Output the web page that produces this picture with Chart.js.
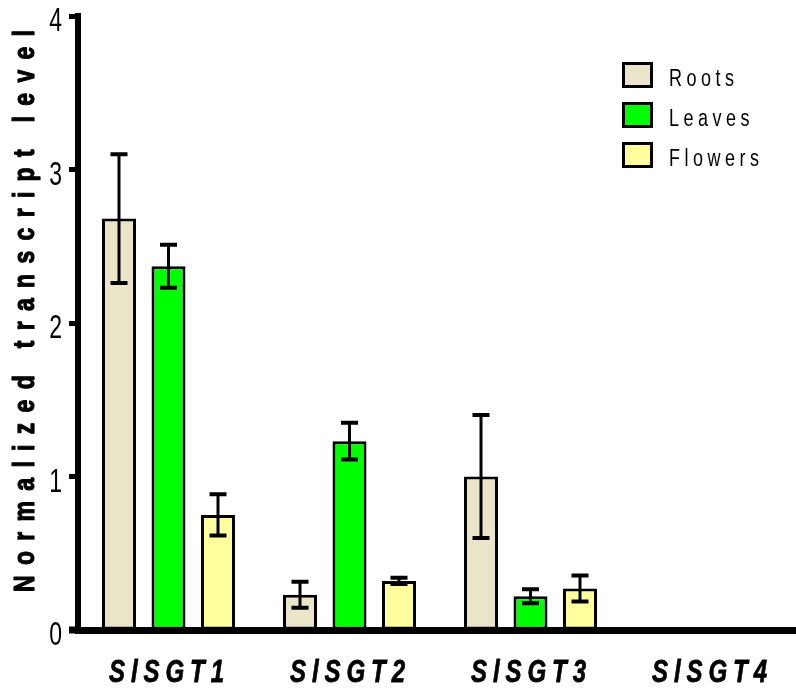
<!DOCTYPE html>
<html>
<head>
<meta charset="utf-8">
<script src="https://cdn.jsdelivr.net/npm/chart.js@4.4.1/dist/chart.umd.min.js"></script>
<style>
  html, body { margin: 0; padding: 0; background: #fff; overflow: hidden; }
  #wrap { width: 802px; height: 688px; }
</style>
</head>
<body>
<div id="wrap"><canvas id="c" width="802" height="688"></canvas></div>
<script>
// Gene categories and expression per tissue (mean ± error)
const categories = ['SlSGT1', 'SlSGT2', 'SlSGT3', 'SlSGT4'];
const seriesNames = ['Roots', 'Leaves', 'Flowers'];
const rootsMean   = [2.68, 0.23, 1.00, null];
const rootsErr    = [0.42, 0.085, 0.40, null];
const leavesMean  = [2.37, 1.23, 0.22, null];
const leavesErr   = [0.14, 0.12, 0.045, null];
const flowersMean = [0.75, 0.32, 0.27, null];
const flowersErr  = [0.135, 0.02, 0.085, null];
const yTicks = [0, 1, 2, 3, 4];
const yTitle = 'Normalized transcript level';
const colors = ['#EAE5C9', '#00FF00', '#FFFF9E'];

const means = [rootsMean, leavesMean, flowersMean];
const errs = [rootsErr, leavesErr, flowersErr];

// Draws text character by character with extra tracking and a vertical stretch
function spacedText(ctx, text, opts) {
  const { x, y, font, size, target, spacing = 0, sy = 1, rot = 0, align = 'center', heavy = 0 } = opts;
  ctx.save();
  ctx.font = font;
  const chars = [...text];
  const widths = chars.map(ch => ctx.measureText(ch).width);
  const nat = widths.reduce((a, b) => a + b, 0);
  const sp = target ? (target - nat) / (chars.length - 1) : spacing;
  const total = nat + sp * (chars.length - 1);
  ctx.translate(x, y);
  ctx.rotate(rot);
  ctx.scale(1, sy);
  ctx.textBaseline = 'alphabetic';
  ctx.textAlign = 'left';
  ctx.fillStyle = '#000';
  ctx.strokeStyle = '#000';
  ctx.lineWidth = heavy;
  ctx.lineJoin = 'round';
  let px = align === 'center' ? -total / 2 : align === 'right' ? -total : 0;
  const base = 0.716 * size / 2;
  chars.forEach((ch, i) => {
    ctx.fillText(ch, px, base);
    if (heavy > 0) ctx.strokeText(ch, px, base);
    px += widths[i] + sp;
  });
  ctx.restore();
}

const errorBars = {
  id: 'errorBars',
  afterDatasetsDraw(chart) {
    const ctx = chart.ctx;
    const ys = chart.scales.y;
    ctx.save();
    ctx.strokeStyle = '#000';
    chart.data.datasets.forEach((ds, di) => {
      const meta = chart.getDatasetMeta(di);
      meta.data.forEach((bar, i) => {
        const m = means[di][i], e = errs[di][i];
        if (m == null || e == null) return;
        const yHi = ys.getPixelForValue(m + e);
        const yLo = ys.getPixelForValue(m - e);
        const x = bar.x;
        ctx.lineWidth = 3;
        ctx.beginPath();
        ctx.moveTo(x, yHi); ctx.lineTo(x, yLo);
        ctx.stroke();
        ctx.lineWidth = 4;
        ctx.beginPath();
        ctx.moveTo(x - 8.5, yHi); ctx.lineTo(x + 8.5, yHi);
        ctx.moveTo(x - 8.5, yLo); ctx.lineTo(x + 8.5, yLo);
        ctx.stroke();
      });
    });
    ctx.restore();
  }
};

const decor = {
  id: 'decor',
  afterDraw(chart) {
    const ctx = chart.ctx;
    const ys = chart.scales.y, xs = chart.scales.x;
    const area = chart.chartArea;

    // extend x-axis line under the zero tick
    ctx.save();
    ctx.fillStyle = '#000';
    ctx.fillRect(69, ys.getPixelForValue(0) - 3.5, area.left - 69, 7);
    ctx.restore();

    // y tick labels
    yTicks.forEach(v => {
      spacedText(ctx, String(v), {
        x: 62, y: ys.getPixelForValue(v) + 3.5,
        font: '23px "Liberation Sans", Arial, sans-serif', size: 23,
        sy: 1.45, align: 'right'
      });
    });

    // category labels
    categories.forEach((c, i) => {
      spacedText(ctx, c, {
        x: xs.getPixelForValue(i) - 2, y: 671,
        font: 'italic bold 24px "Liberation Sans", Arial, sans-serif', size: 24,
        target: 115, sy: 1.33, heavy: 0.6
      });
    });

    // y-axis title
    spacedText(ctx, yTitle, {
      x: 23.5, y: 311, rot: -Math.PI / 2,
      font: 'bold 23px "Liberation Sans", Arial, sans-serif', size: 23,
      target: 562, sy: 1.32, heavy: 0.9
    });

    // legend
    seriesNames.forEach((name, i) => {
      const top = 62 + i * 40;
      ctx.save();
      ctx.fillStyle = colors[i];
      ctx.fillRect(622, top, 31, 26);
      ctx.strokeStyle = '#000';
      ctx.lineWidth = 3;
      ctx.strokeRect(623.5, top + 1.5, 28, 23);
      ctx.restore();
      spacedText(ctx, name, {
        x: 669, y: top + 15.5,
        font: '18px "Liberation Sans", Arial, sans-serif', size: 18,
        spacing: 4.5, sy: 1.32, align: 'left'
      });
    });
  }
};

new Chart(document.getElementById('c'), {
  type: 'bar',
  data: {
    labels: categories,
    datasets: seriesNames.map((name, i) => ({
      label: name,
      data: means[i],
      backgroundColor: colors[i],
      borderColor: '#000',
      borderWidth: 3,
      borderSkipped: false,
      categoryPercentage: 0.8204,
      barPercentage: 0.687
    }))
  },
  options: {
    responsive: false,
    maintainAspectRatio: false,
    animation: false,
    devicePixelRatio: 1,
    layout: { padding: { top: 16, left: 0, right: 0, bottom: 0 } },
    plugins: { legend: { display: false }, tooltip: { enabled: false } },
    scales: {
      x: {
        ticks: { display: false },
        grid: { display: true, drawOnChartArea: false, drawTicks: false },
        border: { display: true, color: '#000', width: 7 },
        afterFit(scale) { scale.height = 58; }
      },
      y: {
        min: 0, max: 4,
        ticks: { display: false, stepSize: 1 },
        grid: { display: true, drawOnChartArea: false, drawTicks: true, tickLength: 9, tickWidth: 5, tickColor: '#000' },
        border: { display: true, color: '#000', width: 6 },
        afterFit(scale) { scale.width = 78; }
      }
    }
  },
  plugins: [errorBars, decor]
});
</script>
</body>
</html>
